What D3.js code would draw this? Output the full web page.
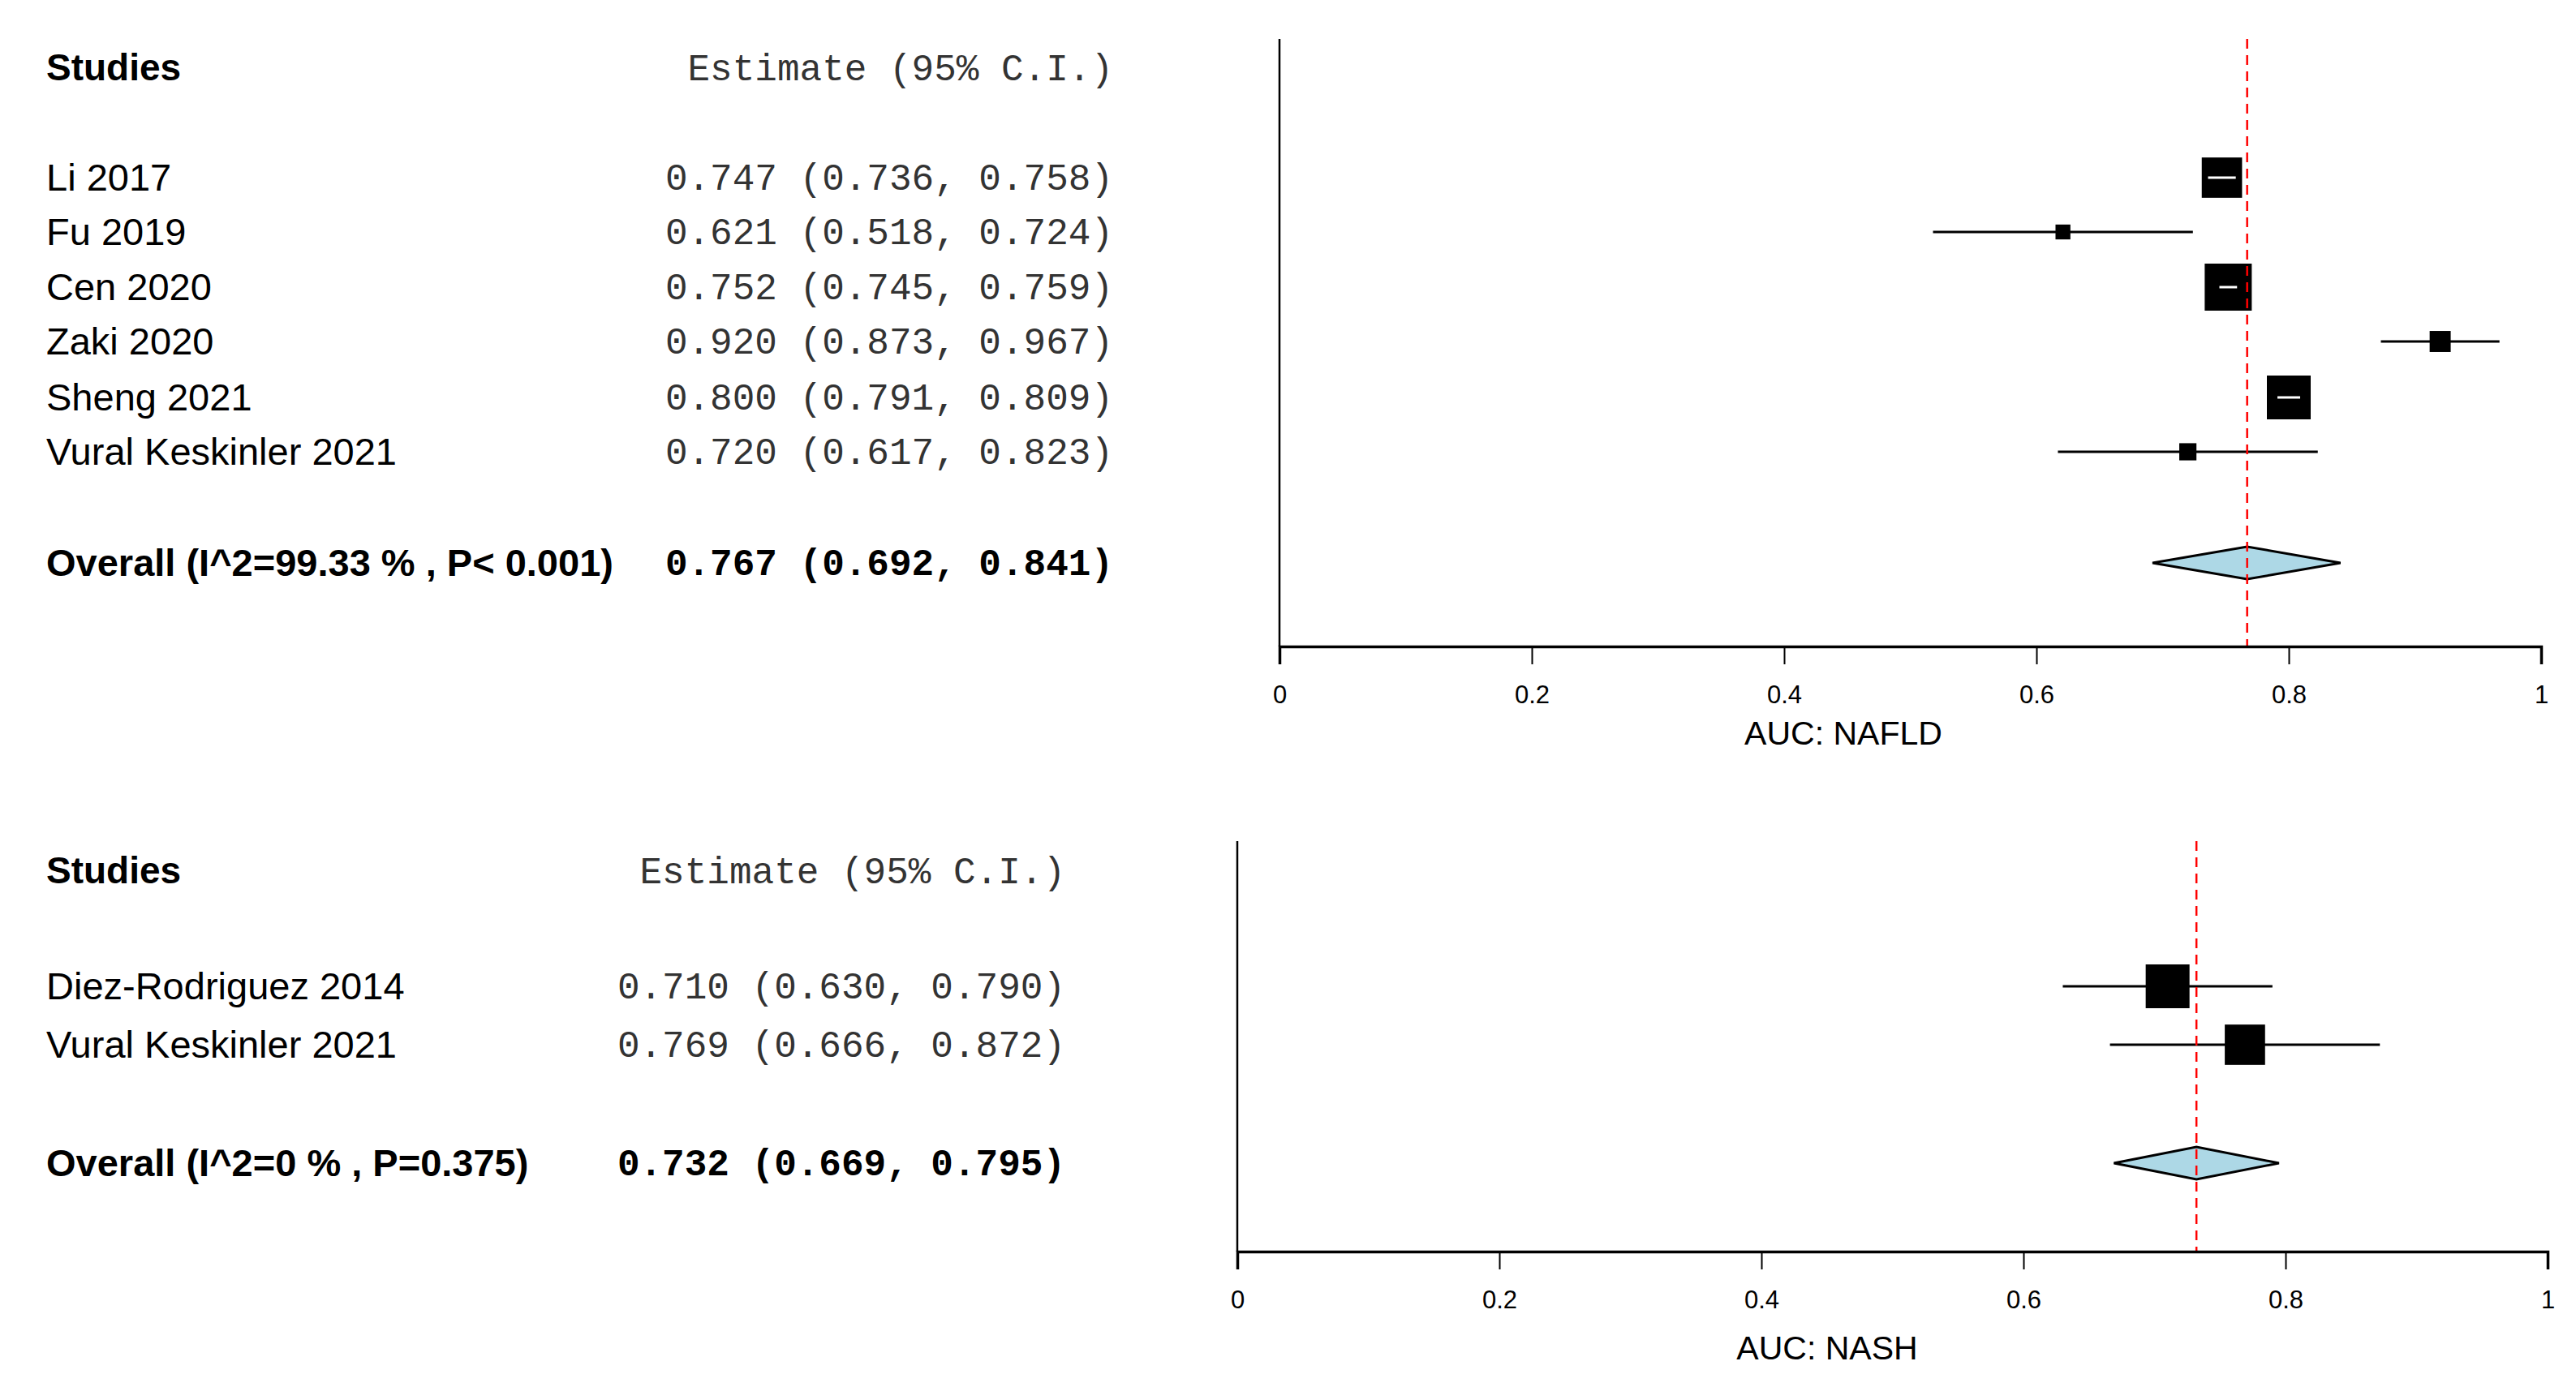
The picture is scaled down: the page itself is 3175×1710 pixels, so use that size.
<!DOCTYPE html><html><head><meta charset="utf-8"><script src="https://cdn.jsdelivr.net/npm/d3@7"></script>
<style>body{margin:0;background:#fff}</style></head><body><svg id="c" width="3175" height="1710"></svg>
<script>
const studies1=["Li 2017","Fu 2019","Cen 2020","Zaki 2020","Sheng 2021","Vural Keskinler 2021"];
const est1=[0.747,0.621,0.752,0.920,0.800,0.720];
const lo1=[0.736,0.518,0.745,0.873,0.791,0.617];
const hi1=[0.758,0.724,0.759,0.967,0.809,0.823];
const w1=[22,3,30,6,26,4];
const overall1={label:"Overall (I^2=99.33 % , P< 0.001)",est:0.767,lo:0.692,hi:0.841};
const studies2=["Diez-Rodriguez 2014","Vural Keskinler 2021"];
const est2=[0.710,0.769];const lo2=[0.630,0.666];const hi2=[0.790,0.872];
const w2=[26,22];
const overall2={label:"Overall (I^2=0 % , P=0.375)",est:0.732,lo:0.669,hi:0.795};
const ticks=[0,0.2,0.4,0.6,0.8,1];
const svg=d3.select("#c");
const f=d=>d.toFixed(3);
function panel(o){
  const {studies,est,lo,hi,w,ov,x0,x1,top,axisY,rowY,ovY,estRight,headerY,title,titleX,titleY}=o;
  const g=svg.append("g");
  const x=d3.scaleLinear().domain([0,1]).range([x0,x1]);
  const sz=d3.scaleSqrt().domain([0,30]).range([0,58]);
  g.append("text").attr("x",57).attr("y",headerY).attr("font-family","Liberation Sans").attr("font-weight","bold").attr("font-size",46).text("Studies");
  g.append("text").attr("x",estRight).attr("y",headerY).attr("text-anchor","end").attr("font-family","Liberation Mono").attr("font-size",46).attr("fill","#333").text("Estimate (95% C.I.)");
  studies.forEach((s,i)=>{
    g.append("text").attr("x",57).attr("y",rowY[i]+16).attr("font-family","Liberation Sans").attr("font-size",47).text(s);
    g.append("text").attr("x",estRight).attr("y",rowY[i]+15).attr("text-anchor","end").attr("font-family","Liberation Mono").attr("font-size",46).attr("fill","#333").text(`${f(est[i])} (${f(lo[i])}, ${f(hi[i])})`);
    g.append("line").attr("x1",x(lo[i])).attr("x2",x(hi[i])).attr("y1",rowY[i]).attr("y2",rowY[i]).attr("stroke","#000").attr("stroke-width",3);
    const s2=sz(w[i]);
    g.append("rect").attr("x",x(est[i])-s2/2).attr("y",rowY[i]-s2/2).attr("width",s2).attr("height",s2).attr("fill","#000");
    if(s2>x(hi[i])-x(lo[i])) g.append("line").attr("x1",x(lo[i])).attr("x2",x(hi[i])).attr("y1",rowY[i]).attr("y2",rowY[i]).attr("stroke","#fff").attr("stroke-width",3);
  });
  g.append("text").attr("x",57).attr("y",ovY+16).attr("font-family","Liberation Sans").attr("font-weight","bold").attr("font-size",47).text(ov.label);
  g.append("text").attr("x",estRight).attr("y",ovY+15).attr("text-anchor","end").attr("font-family","Liberation Mono").attr("font-weight","bold").attr("font-size",46).text(`${f(ov.est)} (${f(ov.lo)}, ${f(ov.hi)})`);
  g.append("path").attr("d",`M${x(ov.lo)},${ovY}L${x(ov.est)},${ovY-20}L${x(ov.hi)},${ovY}L${x(ov.est)},${ovY+20}Z`).attr("fill","#add8e6").attr("stroke","#000").attr("stroke-width",3);
  g.append("line").attr("x1",x0).attr("x2",x0).attr("y1",top).attr("y2",axisY).attr("stroke","#000").attr("stroke-width",2.5);
  g.append("line").attr("x1",x(ov.est)).attr("x2",x(ov.est)).attr("y1",top).attr("y2",axisY).attr("stroke","red").attr("stroke-width",2.5).attr("stroke-dasharray","12,8");
  const ax=g.append("g").attr("transform",`translate(0,${axisY})`).call(d3.axisBottom(x).tickValues(ticks).tickFormat(d3.format("")).tickSize(22).tickPadding(26));
  ax.select(".domain").attr("stroke-width",3.5);
  ax.selectAll(".tick line").attr("stroke-width",2);
  ax.selectAll("text").attr("font-family","Liberation Sans").attr("font-size",31);
  g.append("text").attr("x",titleX).attr("y",titleY).attr("text-anchor","middle").attr("font-family","Liberation Sans").attr("font-size",41).text(title);
}
panel({studies:studies1,est:est1,lo:lo1,hi:hi1,w:w1,ov:overall1,x0:1577,x1:3132,top:48,axisY:797,rowY:[219,286,354,421,490,557],ovY:694,estRight:1372,headerY:99,title:"AUC: NAFLD",titleX:2272,titleY:918});
panel({studies:studies2,est:est2,lo:lo2,hi:hi2,w:w2,ov:overall2,x0:1525,x1:3140,top:1037,axisY:1543,rowY:[1216,1288],ovY:1434,estRight:1313,headerY:1089,title:"AUC: NASH",titleX:2252,titleY:1676});
</script></body></html>
